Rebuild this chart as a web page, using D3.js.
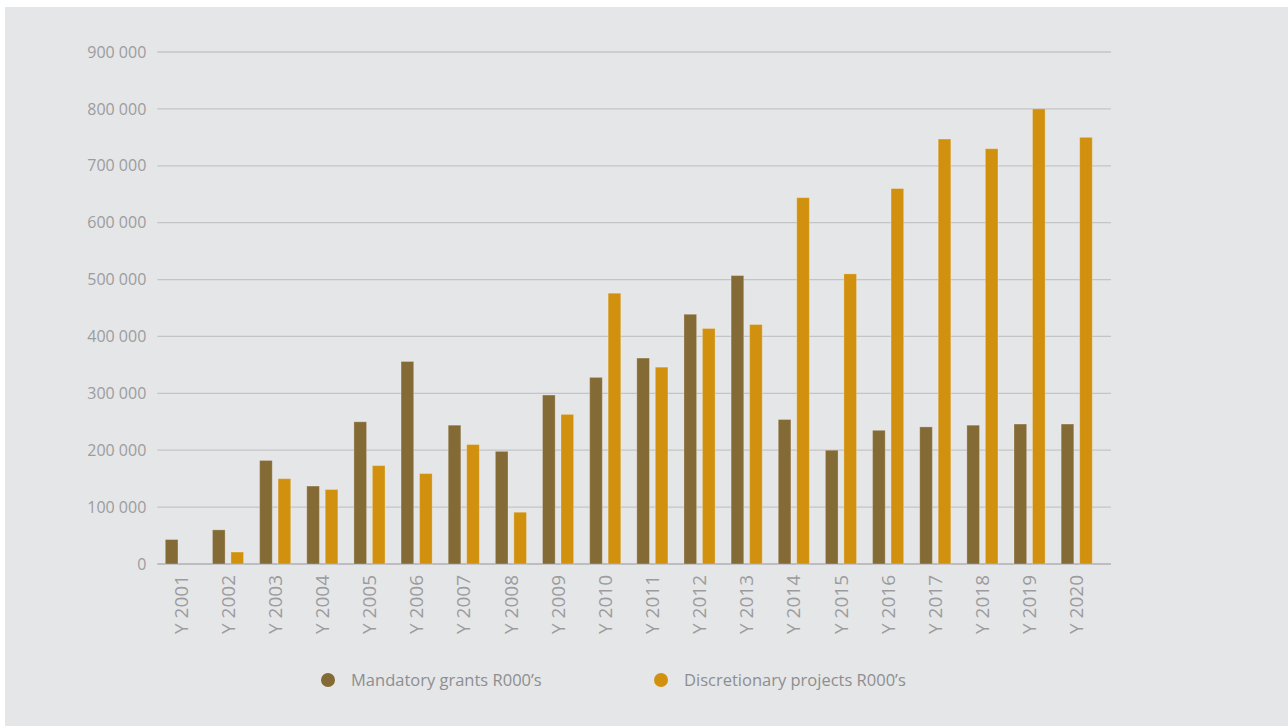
<!DOCTYPE html>
<html>
<head>
<meta charset="utf-8">
<script src="https://cdn.jsdelivr.net/npm/d3@7/dist/d3.min.js"></script>
<style>
  html, body { margin: 0; padding: 0; background: #ffffff; }
  svg { display: block; }
  text { font-family: "Open Sans", "Noto Sans", sans-serif; }
</style>
</head>
<body>
<svg id="chart" width="1288" height="726"></svg>
<script>
const categories = ["Y 2001","Y 2002","Y 2003","Y 2004","Y 2005","Y 2006","Y 2007","Y 2008","Y 2009","Y 2010",
                    "Y 2011","Y 2012","Y 2013","Y 2014","Y 2015","Y 2016","Y 2017","Y 2018","Y 2019","Y 2020"];
const mandatory = [43000, 60000, 182000, 137000, 250000, 356000, 244000, 198000, 297000, 328000,
                   362000, 439000, 507000, 254000, 200000, 235000, 241000, 244000, 246000, 246000];
const discretionary = [0, 21000, 150000, 131000, 173000, 159000, 210000, 91000, 263000, 476000,
                       346000, 414000, 421000, 644000, 510000, 660000, 747000, 730000, 800000, 750000];
const seriesNames = ["Mandatory grants R000\u2019s", "Discretionary projects R000\u2019s"];
const yTicks = [0, 100000, 200000, 300000, 400000, 500000, 600000, 700000, 800000, 900000];

const colors = ["#846a35", "#d1910f"];

const svg = d3.select("#chart");
svg.append("rect").attr("x", 5).attr("y", 7).attr("width", 1283).attr("height", 719).attr("fill", "#e5e6e8");

const plotLeft = 157.3, plotRight = 1100.3, gridRight = 1111;
const y = d3.scaleLinear().domain([0, 900000]).range([564, 52]);
const x0 = d3.scaleBand().domain(categories).range([plotLeft, plotRight]).padding(0);
const x1 = d3.scaleBand().domain([0, 1])
  .range([x0.bandwidth() * 0.17, x0.bandwidth() * 0.83]).paddingInner(0.316).paddingOuter(0);

const fmt = v => d3.format(",")(v).replace(/,/g, " ");

// gridlines
svg.append("g").selectAll("line").data(yTicks).join("line")
  .attr("x1", plotLeft).attr("x2", gridRight)
  .attr("y1", d => y(d)).attr("y2", d => y(d))
  .attr("stroke", d => d === 0 ? "#bdbdbf" : "#c4c4c6")
  .attr("stroke-width", d => d === 0 ? 2 : 1.3);

// y axis labels
const yAxis = d3.axisLeft(y).tickValues(yTicks).tickFormat(fmt).tickSize(0).tickPadding(0);
const yg = svg.append("g").attr("transform", `translate(${plotLeft - 11},0)`).call(yAxis);
yg.select(".domain").remove();
yg.selectAll("text").attr("fill", "#9c9c9e").style("font-size", "16px").style("font-weight", 400)
  .style("font-family", "'Open Sans', sans-serif");

// bars
const data = categories.map((c, i) => ({ cat: c, vals: [mandatory[i], discretionary[i]] }));
const groups = svg.append("g").selectAll("g").data(data).join("g")
  .attr("transform", d => `translate(${x0(d.cat)},0)`);
groups.selectAll("rect").data(d => d.vals.map((v, k) => ({ v, k }))).join("rect")
  .filter(d => d.v > 0)
  .attr("x", d => x1(d.k))
  .attr("width", x1.bandwidth())
  .attr("y", d => y(d.v))
  .attr("height", d => y(0) - y(d.v))
  .attr("fill", d => colors[d.k])
  .attr("stroke", "rgba(255,255,255,0.25)")
  .attr("stroke-width", 1);

// x axis labels
const xAxis = d3.axisBottom(x0).tickSize(0).tickPadding(0);
const xg = svg.append("g").attr("transform", `translate(0,${y(0)})`).call(xAxis);
xg.select(".domain").remove();
xg.selectAll("text")
  .attr("fill", "#9c9c9e").style("font-size", "19px").style("font-weight", 400)
  .style("font-family", "'Open Sans', sans-serif")
  .attr("transform", "rotate(-90)")
  .attr("text-anchor", "end")
  .attr("x", -11).attr("y", 0).attr("dy", "0.35em");

// legend
const legendX = [328, 661];
const lg = svg.append("g").selectAll("g").data(seriesNames).join("g")
  .attr("transform", (d, i) => `translate(${legendX[i]},680)`);
lg.append("circle").attr("r", 7).attr("fill", (d, i) => colors[i]);
lg.append("text").attr("x", 23).attr("dy", "0.35em").text(d => d)
  .attr("fill", "#8e8e90").style("font-size", "16.5px").style("font-weight", 400);
</script>
</body>
</html>
